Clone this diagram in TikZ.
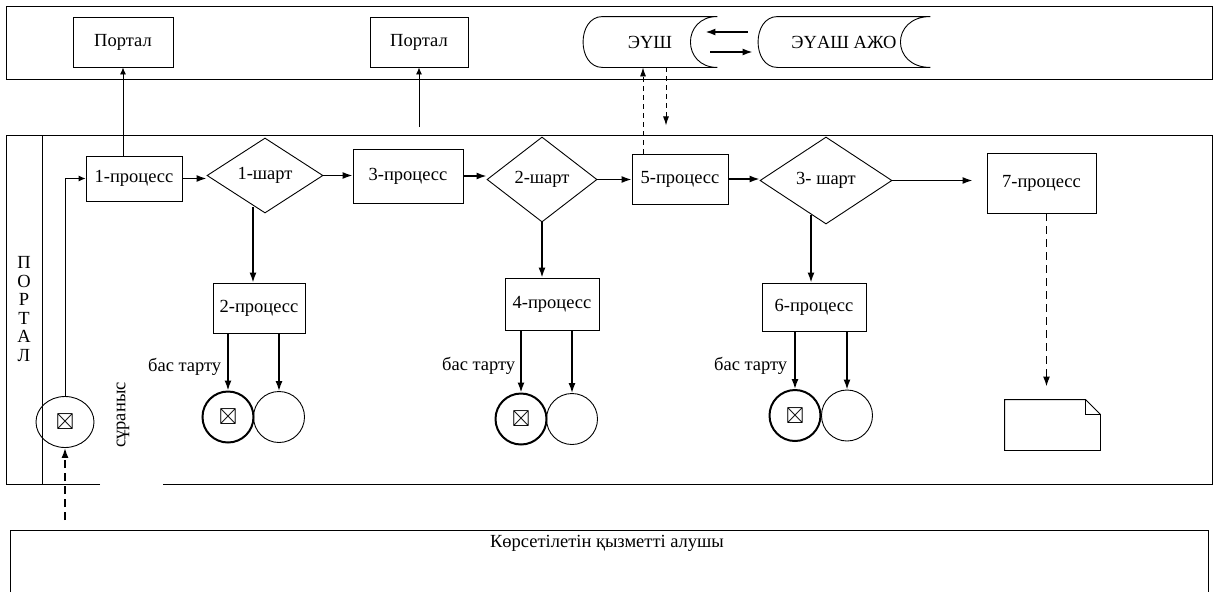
\documentclass[tikz,border=0pt]{standalone}
\usepackage{amssymb}
\usepackage{fontspec}
\setmainfont{Liberation Serif}
\usepackage{tikz}
\usetikzlibrary{arrows,arrows.meta,shapes,calc}
\newcommand{\drawArrow}{\draw[-{Latex[length=10pt,width=7pt]}, line width=1.5pt]}
\newcommand{\drawDashed}{\draw[-{Latex[length=10pt,width=7pt]}, line width=1.5pt, dash pattern=on 8pt off 5pt]}
\newcommand{\drawThin}{\draw[-{Latex[length=7pt,width=6pt]}, line width=0.9pt]}
\newcommand{\drawThinDashed}{\draw[-{Latex[length=9pt,width=6pt]}, line width=0.9pt, dash pattern=on 5pt off 4pt]}
\newcommand{\bigX}{\scalebox{1.25}{$\boxtimes$}}

\begin{document}
\begin{tikzpicture}[x=1pt,y=-1pt, line width=0.9pt, font=\fontsize{18.5}{22}\selectfont,
    proc/.style={draw, rectangle, inner sep=0pt},
    cond/.style={draw, diamond, inner sep=0pt},
    endpt/.style={draw, circle, inner sep=0pt, minimum size=51pt}]

      \useasboundingbox (0,0) rectangle (1214,592);

      % the two lanes and the box at the bottom
      \draw (6,6) rectangle (1212,79);
      \draw (100,484) -- (6,484) -- (6,135) -- (1212,135) -- (1212,484) -- (163,484);
      \draw (42,135) -- (42,484);
      \draw (10,592) -- (10,530) -- (1208,530) -- (1208,592);
      \node (recv) at (607,543) {Көрсетілетін қызметті алушы};
      \node[align=center, font=\fontsize{18.5}{18.5}\selectfont] (portal) at (24,309) {П\\О\\Р\\Т\\А\\Л};

      % top lane
      \node[proc, minimum width=100pt, minimum height=50pt] (portalA) at (123,42) {Портал};
      \node[proc, minimum width=98pt, minimum height=50pt] (portalB) at (419,42) {Портал};
      \node[minimum width=134pt, minimum height=50pt, inner sep=0pt] (eush) at (650,42) {ЭҮШ};
      \node[minimum width=172pt, minimum height=50pt, inner sep=0pt] (eyash) at (844,42) {ЭҮАШ АЖО};
      \draw ($(eush.north west)+(20,0)$) .. controls ($(eush.north west)+(-6,0)$) and ($(eush.south west)+(-6,0)$) .. ($(eush.south west)+(20,0)$)
            -- (eush.south east) .. controls ($(eush.south east)+(-36,0)$) and ($(eush.north east)+(-36,0)$) .. (eush.north east) -- cycle;
      \draw ($(eyash.north west)+(20,0)$) .. controls ($(eyash.north west)+(-6,0)$) and ($(eyash.south west)+(-6,0)$) .. ($(eyash.south west)+(20,0)$)
            -- (eyash.south east) .. controls ($(eyash.south east)+(-40,0)$) and ($(eyash.north east)+(-40,0)$) .. (eyash.north east) -- cycle;

      % second lane
      \node[draw, ellipse, inner sep=0pt, minimum width=58pt, minimum height=51pt] (start) at (65,422) {\bigX};
      \node[rotate=90] (reqtext) at (123,415) {сұраныс};
      \node[proc, minimum width=96pt, minimum height=45pt] (p1) at (134,178.5) {1-процесс};
      \node[cond, minimum width=116pt, minimum height=75pt] (c1) at (265,175.5) {1-шарт};
      \node[proc, minimum width=110pt, minimum height=54pt] (p3) at (408,176) {3-процесс};
      \node[cond, minimum width=110pt, minimum height=85pt] (c2) at (542,179.5) {2-шарт};
      \node[proc, minimum width=96pt, minimum height=50pt] (p5) at (680,179) {5-процесс};
      \node[cond, minimum width=132pt, minimum height=87pt] (c3) at (826,180.5) {3- шарт};
      \node[proc, minimum width=109pt, minimum height=60pt] (p7) at (1041.5,183) {7-процесс};

      \node[proc, minimum width=92pt, minimum height=50pt] (p2) at (259,308) {2-процесс};
      \node[proc, minimum width=94pt, minimum height=52pt] (p4) at (552,304) {4-процесс};
      \node[proc, minimum width=104pt, minimum height=48pt] (p6) at (814,307) {6-процесс};

      \node[endpt, line width=2pt] (r1) at (228,417) {\bigX};
      \node[endpt] (ok1) at (279,417) {};
      \node[endpt, line width=2pt] (r2) at (521,419) {\bigX};
      \node[endpt] (ok2) at (572,419) {};
      \node[endpt, line width=2pt] (r3) at (795,415.5) {\bigX};
      \node[endpt] (ok3) at (847,415.5) {};
      \node[anchor=east] (rej1) at (225,367) {бас тарту};
      \node[anchor=east] (rej2) at (519,366) {бас тарту};
      \node[anchor=east] (rej3) at (791,366) {бас тарту};

      % document
      \node[minimum width=95pt, minimum height=50pt, inner sep=0pt] (doc) at (1052.5,425) {};
      \draw (doc.north west) -- ($(doc.north east)+(-15,0)$) -- ($(doc.north east)+(0,15)$) -- (doc.south east) -- (doc.south west) -- cycle;
      \draw ($(doc.north east)+(-15,0)$) -- ($(doc.north east)+(-15,15)$) -- ($(doc.north east)+(0,15)$);

      %Now draw the arrows
      \coordinate (reqin) at (65,520);
      \coordinate (pB) at (419,127);
      \coordinate (c1out) at ($(c1.south)+(-12,-6)$);
      \coordinate (c3out) at ($(c3.south)+(-15,-9)$);
      \drawDashed (reqin) -- (start.south);
      \drawThin (start.north) |- (p1.west);
      \drawThin (portalA.south |- p1.north) -- (portalA.south);
      \drawThin (pB) -- (portalB.south);

      \drawArrow (p1.east) -- (p1.east -| c1.west);
      \drawArrow (c1.east) -- (c1.east -| p3.west);
      \drawArrow (p3.east) -- (p3.east -| c2.west);
      \drawArrow (c2.east) -- (c2.east -| p5.west);
      \drawArrow (p5.east) -- (p5.east -| c3.west);
      \drawArrow[shorten >=14pt] (c3.east) -- (c3.east -| p7.west);

      \drawArrow (c1out) -- (c1out |- p2.north);
      \drawArrow (c2.south) -- (c2.south |- p4.north);
      \drawArrow (c3out) -- (c3out |- p6.north);

      \drawArrow (r1.north |- p2.south) -- (r1.north);
      \drawArrow (ok1.north |- p2.south) -- (ok1.north);
      \drawArrow (r2.north |- p4.south) -- (r2.north);
      \drawArrow (ok2.north |- p4.south) -- (ok2.north);
      \drawArrow (r3.north |- p6.south) -- (r3.north);
      \drawArrow (ok3.north |- p6.south) -- (ok3.north);

      \drawDashed[shorten >=13pt] ([xshift=5pt]p7.south) -- ([xshift=5pt]p7.south |- doc.north);

      % links with the top lane
      \drawThinDashed ([xshift=-7pt]eush.south |- p5.north) -- ([xshift=-7pt]eush.south);
      \drawThinDashed ([xshift=16pt]eush.south) -- ++(0,58);
      \drawArrow ($(eyash.west)+(-10,-10)$) -- ($(eush.east)+(-12,-10)$);
      \drawArrow ($(eush.east)+(-7,10)$) -- ($(eyash.west)+(-5,10)$);

    \end{tikzpicture}
\end{document}
